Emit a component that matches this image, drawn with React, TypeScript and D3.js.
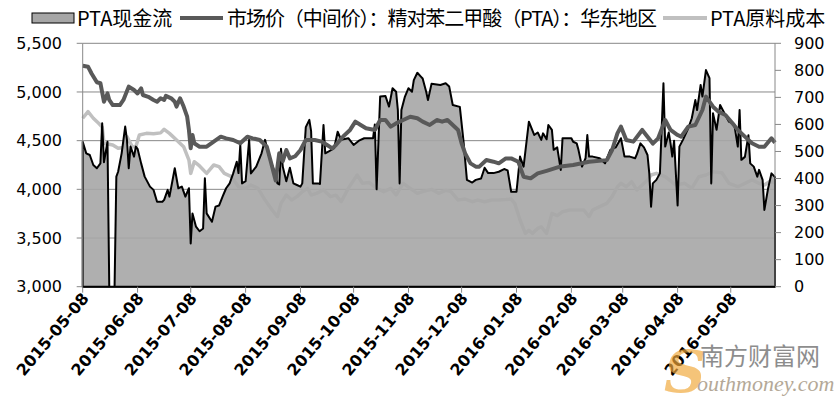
import React, { useEffect } from 'react';
import * as d3 from 'd3';

// PTA cash flow (right axis, 0-900)
const cashSeries: [string, number][] = [
  ['2015-05-08',536],['2015-05-10',493],['2015-05-12',487],['2015-05-14',450],['2015-05-16',438],['2015-05-18',456],['2015-05-19',604],['2015-05-20',460],['2015-05-22',536],['2015-05-23',0],['2015-05-26',0],['2015-05-27',407],['2015-05-28',425],['2015-05-30',493],['2015-06-01',592],['2015-06-02',543],['2015-06-03',438],['2015-06-04',518],['2015-06-06',481],['2015-06-07',518],['2015-06-08',510],['2015-06-10',456],['2015-06-12',407],['2015-06-15',370],['2015-06-17',358],['2015-06-19',314],['2015-06-22',314],['2015-06-23',321],['2015-06-25',358],['2015-06-26',333],['2015-06-29',438],['2015-07-01',364],['2015-07-03',370],['2015-07-05',333],['2015-07-07',364],['2015-07-08',160],['2015-07-09',271],['2015-07-11',222],['2015-07-13',205],['2015-07-15',215],['2015-07-16',401],['2015-07-17',271],['2015-07-20',240],['2015-07-22',296],['2015-07-24',300],['2015-07-26',333],['2015-07-28',364],['2015-07-30',382],['2015-08-01',419],['2015-08-03',462],['2015-08-04',420],['2015-08-05',524],['2015-08-06',382],['2015-08-08',390],['2015-08-10',543],['2015-08-11',419],['2015-08-14',444],['2015-08-17',493],['2015-08-19',543],['2015-08-21',487],['2015-08-24',432],['2015-08-26',382],['2015-08-27',378],['2015-08-28',510],['2015-08-29',444],['2015-08-31',390],['2015-09-02',440],['2015-09-04',382],['2015-09-06',376],['2015-09-08',370],['2015-09-09',382],['2015-09-11',590],['2015-09-13',617],['2015-09-14',575],['2015-09-15',382],['2015-09-18',382],['2015-09-19',380],['2015-09-21',598],['2015-09-22',493],['2015-09-24',500],['2015-09-27',512],['2015-09-29',573],['2015-10-01',543],['2015-10-05',549],['2015-10-08',524],['2015-10-11',540],['2015-10-14',549],['2015-10-19',549],['2015-10-20',600],['2015-10-21',360],['2015-10-23',703],['2015-10-26',705],['2015-10-28',666],['2015-10-30',734],['2015-11-01',721],['2015-11-02',653],['2015-11-03',382],['2015-11-04',653],['2015-11-06',703],['2015-11-08',734],['2015-11-10',721],['2015-11-11',764],['2015-11-13',791],['2015-11-15',777],['2015-11-16',770],['2015-11-18',721],['2015-11-19',690],['2015-11-21',750],['2015-11-26',746],['2015-11-29',752],['2015-12-01',740],['2015-12-03',672],['2015-12-07',665],['2015-12-09',543],['2015-12-11',395],['2015-12-14',385],['2015-12-16',395],['2015-12-19',400],['2015-12-21',440],['2015-12-23',420],['2015-12-26',420],['2015-12-29',425],['2016-01-01',435],['2016-01-03',430],['2016-01-05',351],['2016-01-08',351],['2016-01-10',481],['2016-01-12',444],['2016-01-15',610],['2016-01-18',561],['2016-01-20',570],['2016-01-22',543],['2016-01-23',567],['2016-01-25',545],['2016-01-26',598],['2016-01-28',580],['2016-01-29',506],['2016-01-31',515],['2016-02-02',432],['2016-02-03',549],['2016-02-08',549],['2016-02-09',536],['2016-02-11',530],['2016-02-12',506],['2016-02-14',444],['2016-02-16',475],['2016-02-17',561],['2016-02-18',481],['2016-02-20',481],['2016-02-24',475],['2016-02-27',456],['2016-03-01',506],['2016-03-04',515],['2016-03-07',549],['2016-03-08',515],['2016-03-09',481],['2016-03-12',481],['2016-03-15',475],['2016-03-16',490],['2016-03-18',530],['2016-03-20',515],['2016-03-22',487],['2016-03-23',419],['2016-03-24',296],['2016-03-25',382],['2016-03-27',395],['2016-03-29',419],['2016-03-31',752],['2016-04-01',518],['2016-04-03',570],['2016-04-04',530],['2016-04-05',481],['2016-04-06',540],['2016-04-08',300],['2016-04-09',518],['2016-04-11',543],['2016-04-14',586],['2016-04-16',623],['2016-04-18',690],['2016-04-19',653],['2016-04-21',746],['2016-04-22',703],['2016-04-24',801],['2016-04-26',771],['2016-04-27',382],['2016-04-28',641],['2016-04-30',580],['2016-05-02',672],['2016-05-04',647],['2016-05-07',610],['2016-05-10',600],['2016-05-12',518],['2016-05-13',653],['2016-05-14',469],['2016-05-16',480],['2016-05-18',560],['2016-05-19',456],['2016-05-21',444],['2016-05-23',407],['2016-05-24',432],['2016-05-26',395],['2016-05-27',284],['2016-05-29',360],['2016-05-31',419],['2016-06-02',405],
];

// Market price: PTA East China (left axis)
const priceSeries: [string, number][] = [
  ['2015-05-08',5270],['2015-05-11',5260],['2015-05-13',5190],['2015-05-16',5100],['2015-05-18',5090],['2015-05-20',4900],['2015-05-22',4985],['2015-05-23',4918],['2015-05-25',4866],['2015-05-29',4866],['2015-05-31',4918],['2015-06-03',5055],['2015-06-06',5020],['2015-06-08',4985],['2015-06-10',5037],['2015-06-11',4969],['2015-06-14',4950],['2015-06-17',4918],['2015-06-19',4900],['2015-06-21',4935],['2015-06-23',4918],['2015-06-24',4960],['2015-06-27',4935],['2015-06-29',4900],['2015-06-30',4850],['2015-07-02',4935],['2015-07-04',4850],['2015-07-06',4746],['2015-07-07',4610],['2015-07-08',4421],['2015-07-09',4558],['2015-07-10',4473],['2015-07-13',4438],['2015-07-17',4438],['2015-07-21',4490],['2015-07-25',4541],['2015-07-28',4524],['2015-08-01',4507],['2015-08-05',4473],['2015-08-09',4541],['2015-08-12',4524],['2015-08-16',4507],['2015-08-20',4438],['2015-08-22',4301],['2015-08-25',4090],['2015-08-27',4370],['2015-08-29',4290],['2015-08-31',4404],['2015-09-02',4318],['2015-09-05',4340],['2015-09-08',4404],['2015-09-11',4507],['2015-09-16',4507],['2015-09-20',4490],['2015-09-23',4455],['2015-09-26',4421],['2015-09-28',4455],['2015-10-02',4541],['2015-10-06',4610],['2015-10-09',4695],['2015-10-12',4661],['2015-10-15',4627],['2015-10-20',4610],['2015-10-23',4712],['2015-10-26',4712],['2015-10-29',4644],['2015-11-01',4678],['2015-11-05',4712],['2015-11-09',4746],['2015-11-13',4730],['2015-11-16',4695],['2015-11-20',4661],['2015-11-24',4712],['2015-11-27',4695],['2015-11-30',4712],['2015-12-03',4661],['2015-12-06',4610],['2015-12-08',4473],['2015-12-10',4370],['2015-12-13',4267],['2015-12-16',4233],['2015-12-18',4233],['2015-12-22',4301],['2015-12-26',4284],['2015-12-29',4267],['2016-01-02',4318],['2016-01-05',4318],['2016-01-09',4284],['2016-01-12',4130],['2016-01-16',4113],['2016-01-20',4164],['2016-01-25',4190],['2016-02-02',4235],['2016-02-09',4250],['2016-02-18',4284],['2016-02-28',4300],['2016-03-02',4404],['2016-03-05',4575],['2016-03-07',4644],['2016-03-10',4507],['2016-03-14',4490],['2016-03-19',4610],['2016-03-22',4541],['2016-03-25',4470],['2016-03-28',4524],['2016-04-01',4712],['2016-04-04',4610],['2016-04-08',4558],['2016-04-10',4541],['2016-04-14',4644],['2016-04-18',4661],['2016-04-22',4815],['2016-04-24',4952],['2016-04-28',4849],['2016-05-01',4798],['2016-05-05',4764],['2016-05-09',4678],['2016-05-12',4610],['2016-05-16',4541],['2016-05-20',4473],['2016-05-24',4438],['2016-05-27',4438],['2016-05-31',4524],['2016-06-02',4480],
];

// PTA raw material cost (left axis)
const costSeries: [string, number][] = [
  ['2015-05-08',4730],['2015-05-11',4798],['2015-05-14',4730],['2015-05-17',4678],['2015-05-19',4640],['2015-05-20',4473],['2015-05-25',4455],['2015-05-28',4421],['2015-05-31',4430],['2015-06-02',4541],['2015-06-05',4438],['2015-06-07',4438],['2015-06-09',4558],['2015-06-13',4575],['2015-06-17',4570],['2015-06-21',4580],['2015-06-23',4617],['2015-06-26',4575],['2015-06-30',4507],['2015-07-04',4438],['2015-07-07',4301],['2015-07-08',4164],['2015-07-10',4284],['2015-07-13',4240],['2015-07-17',4164],['2015-07-21',4250],['2015-07-24',4233],['2015-07-27',4164],['2015-07-31',4130],['2015-08-04',4027],['2015-08-08',4010],['2015-08-11',4044],['2015-08-15',4010],['2015-08-19',3890],['2015-08-23',3788],['2015-08-26',3719],['2015-08-28',3856],['2015-08-31',3942],['2015-09-03',3890],['2015-09-06',3925],['2015-09-09',3976],['2015-09-12',4010],['2015-09-14',3942],['2015-09-17',3959],['2015-09-21',3993],['2015-09-25',3925],['2015-09-28',3940],['2015-10-01',3873],['2015-10-05',4010],['2015-10-10',4147],['2015-10-13',4062],['2015-10-17',4070],['2015-10-21',4010],['2015-10-25',3976],['2015-10-29',4010],['2015-11-01',3942],['2015-11-05',4062],['2015-11-09',4010],['2015-11-13',3959],['2015-11-16',3976],['2015-11-21',4000],['2015-11-25',3959],['2015-11-29',3990],['2015-12-02',3976],['2015-12-06',3890],['2015-12-10',3900],['2015-12-14',3873],['2015-12-17',3890],['2015-12-21',3873],['2015-12-25',3890],['2015-12-29',3890],['2016-01-02',3895],['2016-01-05',3900],['2016-01-07',3856],['2016-01-10',3685],['2016-01-13',3548],['2016-01-15',3580],['2016-01-17',3548],['2016-01-20',3599],['2016-01-22',3616],['2016-01-25',3548],['2016-01-28',3753],['2016-01-31',3730],['2016-02-03',3770],['2016-02-07',3788],['2016-02-15',3788],['2016-02-18',3719],['2016-02-20',3788],['2016-02-24',3822],['2016-02-28',3856],['2016-03-02',3925],['2016-03-05',4027],['2016-03-07',4062],['2016-03-10',4027],['2016-03-13',4079],['2016-03-16',3993],['2016-03-19',4044],['2016-03-22',4096],['2016-03-24',4147],['2016-03-27',4164],['2016-04-01',4130],['2016-04-07',4044],['2016-04-12',4062],['2016-04-16',4010],['2016-04-20',4130],['2016-04-24',4147],['2016-04-28',4181],['2016-05-03',4170],['2016-05-07',4062],['2016-05-12',4027],['2016-05-16',4062],['2016-05-20',4096],['2016-05-24',4062],['2016-05-27',4044],['2016-05-30',4080],['2016-06-02',4070],
];

const leftTicks = [3000, 3500, 4000, 4500, 5000, 5500];
const rightTicks = [0, 100, 200, 300, 400, 500, 600, 700, 800, 900];
const xTickLabels = ['2015-05-08','2015-06-08','2015-07-08','2015-08-08','2015-09-08','2015-10-08','2015-11-08','2015-12-08','2016-01-08','2016-02-08','2016-03-08','2016-04-08','2016-05-08'];
const legendLabels = ['PTA现金流', '市场价（中间价）：精对苯二甲酸（PTA）：华东地区', 'PTA原料成本'];
const xDomain = ['2015-05-08', '2016-06-02'];

const W = 837, H = 398;
const PL = 82.7, PR = 775, PT = 43.3, PB = 286.7;
const C_AREA = '#a6a6a6', C_PRICE = '#595959', C_COST = '#c0c0c0', C_GRID = '#888888';
const NUM_FONT = '"DejaVu Sans", Verdana, sans-serif';
const CJK_FONT = '"Noto Sans CJK SC", "Noto Sans", sans-serif';

const parse = d3.utcParse('%Y-%m-%d');

export default function App() {
  useEffect(() => { document.body.style.margin = '0'; }, []);
  const x = d3.scaleUtc().domain(xDomain.map((s) => parse(s) as Date)).range([PL, PR]);
  const yL = d3.scaleLinear().domain([3000, 5500]).range([PB, PT]);
  const yR = d3.scaleLinear().domain([0, 900]).range([PB, PT]);

  const area = d3.area<[string, number]>()
    .x((d) => x(parse(d[0]) as Date))
    .y0(yR(0))
    .y1((d) => yR(d[1]));
  const lineL = d3.line<[string, number]>()
    .x((d) => x(parse(d[0]) as Date))
    .y((d) => yL(d[1]));

  const fmt = d3.format(',');

  return (
    <svg width={W} height={H} style={{ position: 'absolute', left: 0, top: 0, background: '#fff' }}>
      <rect x={0} y={0} width={W} height={H} fill="#fff" />
      {leftTicks.map((t) => (
        <line key={'g' + t} x1={PL} x2={PR} y1={yL(t)} y2={yL(t)} stroke={C_GRID} strokeWidth={1} />
      ))}
      <path d={lineL(costSeries) || ''} fill="none" stroke={C_COST} strokeWidth={3.5} strokeLinejoin="round" />
      <path d={area(cashSeries) || ''} fill={C_AREA} fillOpacity={0.9} stroke="#000" strokeWidth={2} strokeLinejoin="round" />
      <path d={lineL(priceSeries) || ''} fill="none" stroke={C_PRICE} strokeWidth={4} strokeLinejoin="round" />

      <line x1={PL} x2={PL} y1={PT} y2={PB} stroke={C_GRID} strokeWidth={1} />
      <line x1={PR} x2={PR} y1={PT} y2={PB} stroke={C_GRID} strokeWidth={1} />
      <line x1={PL} x2={PR} y1={PB} y2={PB} stroke="#000" strokeWidth={1.5} />
      {leftTicks.map((t) => (
        <g key={'l' + t}>
          <line x1={PL - 6} x2={PL} y1={yL(t)} y2={yL(t)} stroke={C_GRID} />
          <text x={62} y={yL(t)} dy="0.36em" textAnchor="end" fontFamily={NUM_FONT} fontSize={16} fill="#000">{fmt(t)}</text>
        </g>
      ))}
      {rightTicks.map((t) => (
        <g key={'r' + t}>
          <line x1={PR} x2={PR + 6} y1={yR(t)} y2={yR(t)} stroke={C_GRID} />
          <text x={794} y={yR(t)} dy="0.36em" textAnchor="start" fontFamily={NUM_FONT} fontSize={16} fill="#000">{t}</text>
        </g>
      ))}
      {xTickLabels.map((s) => {
        const xx = x(parse(s) as Date);
        return (
          <g key={'x' + s}>
            <line x1={xx} x2={xx} y1={PB} y2={PB + 6} stroke={C_GRID} />
            <text transform={`translate(${xx + 7},${PB + 12}) rotate(-50)`} textAnchor="end" fontFamily={NUM_FONT} fontWeight="bold" fontSize={16} fill="#000">{s}</text>
          </g>
        );
      })}

      <rect x={32} y={13} width={42} height={10} fill={C_AREA} stroke="#000" strokeWidth={1} />
      <text x={77} y={26} fontFamily={CJK_FONT} fontSize={20} fill="#000">{legendLabels[0]}</text>
      <line x1={180} x2={223} y1={18} y2={18} stroke={C_PRICE} strokeWidth={4} />
      <text x={227} y={26} fontFamily={CJK_FONT} fontSize={20} fill="#000" textLength={430} lengthAdjust="spacing">{legendLabels[1]}</text>
      <line x1={663} x2={707} y1={18} y2={18} stroke={C_COST} strokeWidth={4} />
      <text x={710} y={26} fontFamily={CJK_FONT} fontSize={20} fill="#000">{legendLabels[2]}</text>

      <g opacity={0.85}>
        <text x={664} y={392} fontFamily="'DejaVu Serif', serif" fontStyle="italic" fontWeight="bold" fontSize={58} fill="#f2a93b" opacity={0.8}>S</text>
        <text x={700} y={365} fontFamily={CJK_FONT} fontSize={24} fill="#7a7a7a">南方财富网</text>
        <text x={697} y={391} fontFamily="'Liberation Serif', serif" fontStyle="italic" fontSize={22} fill="#a89a86">outhmoney.com</text>
      </g>
    </svg>
  );
}
